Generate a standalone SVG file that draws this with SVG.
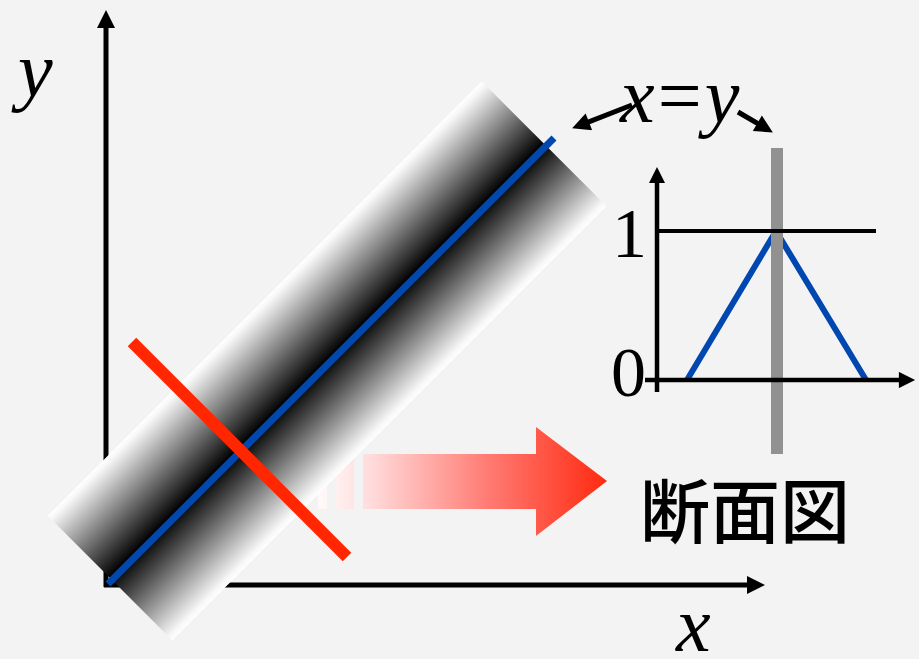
<svg xmlns="http://www.w3.org/2000/svg" width="919" height="659" viewBox="0 0 919 659">
<defs>
<style>
.ax{stroke:#000;fill:none}
.it{font-family:"Liberation Serif","Times New Roman",serif;font-style:italic;font-size:78px;fill:#000}
.num{font-family:"Liberation Serif","Times New Roman",serif;font-size:70px;fill:#000}
.cjk{font-family:"Noto Sans CJK JP","Noto Sans CJK SC",sans-serif;font-size:70px;font-weight:500;fill:#000}
</style>
<marker id="ah" viewBox="0 0 10 10" refX="5" refY="5" markerWidth="4" markerHeight="3.6" markerUnits="strokeWidth" orient="auto">
<path d="M0,0 L10,5 L0,10 Z" fill="#000"/>
</marker>
<linearGradient id="bandg" x1="0" y1="0" x2="0" y2="1">
<stop offset="0" stop-color="#ffffff"/>
<stop offset="0.03" stop-color="#f6f6f6"/>
<stop offset="0.5" stop-color="#000000"/>
<stop offset="0.97" stop-color="#f6f6f6"/>
<stop offset="1" stop-color="#ffffff"/>
</linearGradient>
<linearGradient id="redg" gradientUnits="userSpaceOnUse" x1="310" y1="0" x2="607" y2="0">
<stop offset="0" stop-color="#ffffff"/>
<stop offset="0.2" stop-color="#ffdcdc"/>
<stop offset="0.6" stop-color="#ff7b73"/>
<stop offset="1" stop-color="#ff2a10"/>
</linearGradient>
</defs>
<rect width="919" height="659" fill="#f3f3f3"/>
<g id="axes">
<line class="ax" x1="106" y1="587" x2="106" y2="19" stroke-width="5" marker-end="url(#ah)"/>
<line class="ax" x1="104" y1="585" x2="756" y2="585" stroke-width="5" marker-end="url(#ah)"/>
</g>
<g id="red-arrow-stripes">
<rect x="318" y="470" width="9" height="39" fill="url(#redg)"/>
<rect x="336" y="454" width="18" height="55" fill="url(#redg)"/>
</g>
<g id="band">
<rect transform="translate(110,578) rotate(-45)" x="0" y="-88" width="614" height="176" fill="url(#bandg)"/>
</g>
<g id="diagonal">
<line x1="108" y1="584" x2="554" y2="138" stroke="#0047b0" stroke-width="7"/>
</g>
<g id="cut-line">
<line x1="132" y1="342" x2="347" y2="557" stroke="#ff2600" stroke-width="12"/>
</g>
<g id="red-arrow">
<path d="M363,454 H536 V427 L607,481 L536,536 V509 H363 Z" fill="url(#redg)"/>
</g>
<g id="cross-section">
<polyline points="687,380 776,231 866,380" fill="none" stroke="#0047b0" stroke-width="6"/>
<line x1="777" y1="148" x2="777" y2="454" stroke="#919191" stroke-width="12"/>
<line class="ax" x1="657" y1="392" x2="657" y2="175" stroke-width="4.5" marker-end="url(#ah)"/>
<line class="ax" x1="645" y1="380" x2="907" y2="380" stroke-width="4.5" marker-end="url(#ah)"/>
<line class="ax" x1="657" y1="231" x2="876" y2="231" stroke-width="4"/>
<text class="num" x="612" y="257">1</text>
<text class="num" x="611" y="396">0</text>
</g>
<g id="connectors">
<line class="ax" x1="632" y1="105" x2="580.5" y2="125.1" stroke-width="5" marker-end="url(#ah)"/>
<line class="ax" x1="738" y1="112" x2="765.1" y2="127.9" stroke-width="5" marker-end="url(#ah)"/>
</g>
<g id="labels">
<text class="it" x="620" y="122" letter-spacing="3">x<tspan font-style="normal">=</tspan>y</text>
<text class="it" x="18" y="96">y</text>
<text class="it" x="676" y="651">x</text>
<text class="cjk" x="640" y="538">断面図</text>
</g>
</svg>
